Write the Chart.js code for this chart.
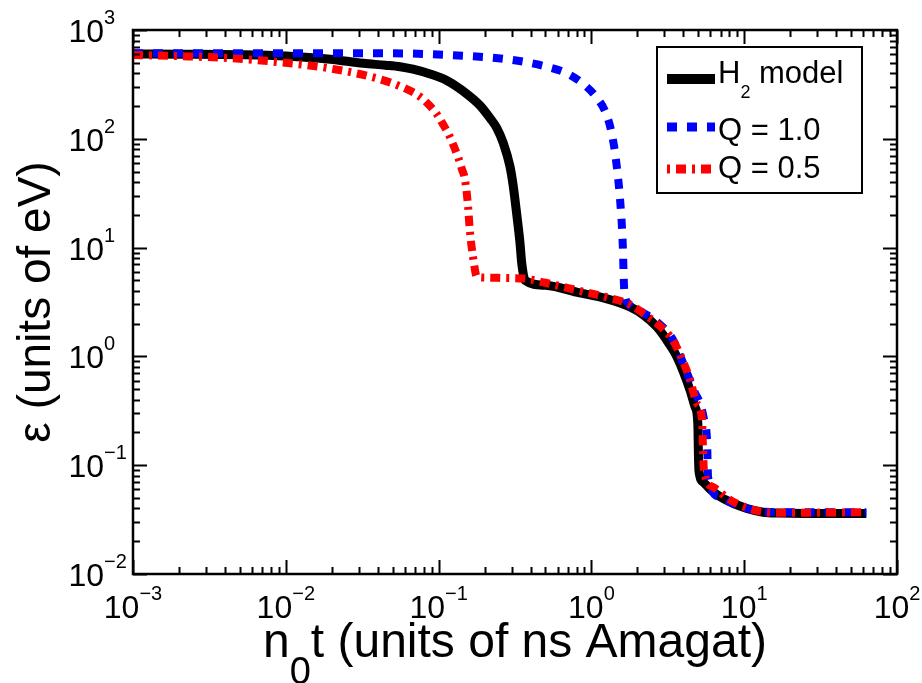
<!DOCTYPE html>
<html>
<head>
<meta charset="utf-8">
<script src="https://cdn.jsdelivr.net/npm/chart.js@4.4.0/dist/chart.umd.min.js"></script>
<style>
  html, body { margin: 0; padding: 0; background: #fff; }
  #wrap { width: 922px; height: 683px; }
</style>
</head>
<body>
<div id="wrap"><canvas id="chart" width="922" height="683"></canvas></div>
<script>
// H2 model (solid black)
const h2X = [0.001, 0.002, 0.005, 0.01, 0.0195, 0.0321, 0.045, 0.056, 0.068, 0.088, 0.113, 0.145, 0.187, 0.217, 0.24, 0.265,
  0.293, 0.308, 0.324, 0.341, 0.35, 0.368, 0.5, 0.84, 1.2, 1.79, 2.2, 2.69, 3.2, 3.63, 4.42, 4.77, 4.97, 5.02, 5.06,
  5.4, 6.0, 7.0, 8.07, 10.4, 13.3, 17, 25, 63];
const h2Y = [603, 600, 593, 577, 539, 494, 475, 460, 436, 394, 344, 274, 202, 155, 126, 91.5,
  56, 36.8, 20.7, 11, 7.2, 5.0, 4.5, 3.83, 3.45, 2.85, 2.4, 1.86, 1.33, 0.99, 0.49, 0.343, 0.244, 0.12, 0.088,
  0.07, 0.06, 0.051, 0.046, 0.040, 0.037, 0.0363, 0.036, 0.036];

// Q = 1.0 (blue dotted)
const q1X = [0.001, 0.01, 0.0493, 0.119, 0.211, 0.279, 0.377, 0.51, 0.689, 0.885, 1.084, 1.228, 1.324, 1.406, 1.47, 1.522,
  1.562, 1.591, 1.61, 1.622, 1.634, 1.66, 1.75, 2.14, 2.69, 3.42, 3.98, 4.42, 4.77, 5.14, 5.47, 5.71, 5.75, 5.8,
  6.95, 8.5, 10.4, 13.3, 17, 63];
const q1Y = [612, 612, 611, 589, 561, 539, 505, 460, 400, 319, 239, 180, 131, 85.9, 54, 33.8,
  21.2, 13.9, 9.1, 6.2, 4.5, 3.6, 3.05, 2.56, 2.07, 1.42, 0.87, 0.60, 0.46, 0.37, 0.26, 0.17, 0.119, 0.078,
  0.051, 0.044, 0.040, 0.0375, 0.037, 0.037];

// Q = 0.5 (red dash-dot)
const q05X = [0.001, 0.002, 0.0041, 0.0088, 0.0186, 0.0356, 0.0534, 0.0755, 0.0879, 0.0972, 0.1052, 0.116, 0.126, 0.134, 0.142,
  0.149, 0.156, 0.16, 0.168, 0.178, 0.2, 0.28, 0.36, 0.5, 0.84, 1.2, 1.79, 2.31, 2.69, 3.42, 3.98, 4.42, 4.9, 5.3,
  5.37, 5.45, 6.25, 8.07, 10.4, 13.3, 17, 63];
const q05Y = [590, 575, 553, 508, 448, 373, 312, 244, 200, 169, 141, 111, 85, 68, 52.8,
  41.8, 23.6, 14.5, 8.2, 5.4, 5.3, 5.25, 5.2, 4.75, 4.0, 3.55, 3.0, 2.35, 2.0, 1.4, 0.9, 0.61, 0.37, 0.26,
  0.147, 0.09, 0.063, 0.048, 0.0405, 0.0372, 0.0365, 0.037];

const seriesNames = ["H_2 model", "Q = 1.0", "Q = 0.5"];
const seriesColors = ["#000000", "#0000ff", "#ff0000"];
const seriesDash = [[], [10, 10], [10, 6, 3, 6]];

const xDecades = [-3, -2, -1, 0, 1, 2];
const yDecades = [-2, -1, 0, 1, 2, 3];
const xTitle = "n_0t (units of ns Amagat)";
const yTitle = "\u03b5 (units of eV)";

const FONT = '"Liberation Sans", Arial, Helvetica, sans-serif';

function toPts(xs, ys) {
  return xs.map((x, i) => ({ x: x, y: ys[i] }));
}

// split "10^{-3}" or "H_2 model" into runs
function richParts(str, size, scriptSize, supDy, subDy) {
  const parts = [];
  let buf = '';
  let i = 0;
  while (i < str.length) {
    const c = str[i];
    if (c === '^' || c === '_') {
      if (buf) { parts.push({ t: buf, size: size, dy: 0 }); buf = ''; }
      let s;
      if (str[i + 1] === '{') {
        const j = str.indexOf('}', i);
        s = str.slice(i + 2, j);
        i = j + 1;
      } else {
        s = str[i + 1];
        i += 2;
      }
      parts.push({ t: s, size: scriptSize, dy: c === '^' ? supDy : subDy });
    } else {
      buf += c;
      i++;
    }
  }
  if (buf) parts.push({ t: buf, size: size, dy: 0 });
  return parts;
}

function measureParts(ctx, parts) {
  let w = 0;
  parts.forEach(p => {
    ctx.font = p.size + 'px ' + FONT;
    p.w = ctx.measureText(p.t).width;
    w += p.w;
  });
  return w;
}

function drawParts(ctx, parts, x, y) {
  let cx = x;
  ctx.textAlign = 'left';
  ctx.textBaseline = 'alphabetic';
  parts.forEach(p => {
    ctx.font = p.size + 'px ' + FONT;
    ctx.fillText(p.t, cx, y + p.dy);
    cx += p.w;
  });
}

const matlabAxes = {
  id: 'matlabAxes',
  afterDatasetsDraw(chart) {
    const ctx = chart.ctx;
    const a = chart.chartArea;
    const xs = chart.scales.x;
    const ys = chart.scales.y;
    ctx.save();
    ctx.strokeStyle = '#000';
    ctx.fillStyle = '#000';
    ctx.lineWidth = 2;
    ctx.setLineDash([]);

    const major = 14, minor = 7;
    // x ticks (bottom + top, inward)
    xDecades.forEach((d, k) => {
      for (let m = 1; m < 10; m++) {
        if (m > 1 && k === xDecades.length - 1) break;
        const px = Math.round(xs.getPixelForValue(m * Math.pow(10, d))) + 0.5;
        const len = m === 1 ? major : minor;
        ctx.beginPath();
        ctx.moveTo(px, a.bottom); ctx.lineTo(px, a.bottom - len);
        ctx.moveTo(px, a.top); ctx.lineTo(px, a.top + len);
        ctx.stroke();
      }
    });
    // y ticks (left + right, inward)
    yDecades.forEach((d, k) => {
      for (let m = 1; m < 10; m++) {
        if (m > 1 && k === yDecades.length - 1) break;
        const py = Math.round(ys.getPixelForValue(m * Math.pow(10, d))) + 0.5;
        const len = m === 1 ? major : minor;
        ctx.beginPath();
        ctx.moveTo(a.left, py); ctx.lineTo(a.left + len, py);
        ctx.moveTo(a.right, py); ctx.lineTo(a.right - len, py);
        ctx.stroke();
      }
    });

    // frame
    ctx.lineWidth = 2.5;
    ctx.strokeRect(a.left, a.top, a.right - a.left, a.bottom - a.top);

    // x tick labels
    xDecades.forEach(d => {
      const px = xs.getPixelForValue(Math.pow(10, d));
      const parts = richParts('10^{' + String(d).replace('-', '\u2212') + '}', 32, 20, -18, 0);
      const w = measureParts(ctx, parts);
      drawParts(ctx, parts, px - w / 2, a.bottom + 44);
    });
    // y tick labels
    yDecades.forEach(d => {
      const py = ys.getPixelForValue(Math.pow(10, d));
      const parts = richParts('10^{' + String(d).replace('-', '\u2212') + '}', 32, 20, -18, 0);
      measureParts(ctx, parts);
      drawParts(ctx, parts, 104 - parts[0].w, py + 12);
    });

    // x title
    const tParts = richParts(xTitle, 48, 38, 0, 27);
    const tw = measureParts(ctx, tParts);
    drawParts(ctx, tParts, (a.left + a.right) / 2 - tw / 2, 657);

    // y title
    ctx.save();
    ctx.translate(50, (a.top + a.bottom) / 2);
    ctx.rotate(-Math.PI / 2);
    ctx.font = '46px ' + FONT;
    ctx.textAlign = 'center';
    ctx.textBaseline = 'alphabetic';
    ctx.fillText(yTitle, 0, 0);
    ctx.restore();

    // legend box
    const box = { l: 657, t: 47, r: 862, b: 193 };
    ctx.fillStyle = '#fff';
    ctx.fillRect(box.l, box.t, box.r - box.l, box.b - box.t);
    ctx.lineWidth = 2;
    ctx.strokeRect(box.l, box.t, box.r - box.l, box.b - box.t);
    const lineYs = [79, 127, 169];
    const textYs = [83, 140, 178];
    const dashOffsets = [0, 0, 16];
    seriesNames.forEach((name, i) => {
      ctx.strokeStyle = seriesColors[i];
      ctx.lineWidth = i === 0 ? 10 : 9;
      ctx.lineCap = 'butt';
      ctx.setLineDash(seriesDash[i]);
      ctx.lineDashOffset = dashOffsets[i];
      ctx.beginPath();
      ctx.moveTo(667, lineYs[i]);
      ctx.lineTo(715, lineYs[i]);
      ctx.stroke();
      ctx.setLineDash([]);
      ctx.lineDashOffset = 0;
      ctx.fillStyle = '#000';
      const parts = richParts(name, 31, 18, 0, 15);
      measureParts(ctx, parts);
      drawParts(ctx, parts, 718, textYs[i]);
    });

    ctx.restore();
  }
};

new Chart(document.getElementById('chart'), {
  type: 'scatter',
  data: {
    datasets: [
      {
        label: seriesNames[0], data: toPts(h2X, h2Y), showLine: true,
        borderColor: seriesColors[0], borderWidth: 9, borderDash: seriesDash[0],
        borderJoinStyle: 'round', pointRadius: 0, cubicInterpolationMode: 'monotone', order: 3
      },
      {
        label: seriesNames[1], data: toPts(q1X, q1Y), showLine: true,
        borderColor: seriesColors[1], borderWidth: 8, borderDash: seriesDash[1],
        borderCapStyle: 'butt', pointRadius: 0, cubicInterpolationMode: 'monotone', order: 2
      },
      {
        label: seriesNames[2], data: toPts(q05X, q05Y), showLine: true,
        borderColor: seriesColors[2], borderWidth: 8, borderDash: seriesDash[2],
        borderCapStyle: 'butt', borderJoinStyle: 'miter', pointRadius: 0, cubicInterpolationMode: 'monotone', order: 1
      }
    ]
  },
  options: {
    responsive: false,
    animation: false,
    devicePixelRatio: 1,
    layout: { padding: { left: 133, right: 25, top: 30, bottom: 109 } },
    scales: {
      x: { type: 'logarithmic', min: 1e-3, max: 1e2, display: false },
      y: { type: 'logarithmic', min: 1e-2, max: 1e3, display: false }
    },
    plugins: { legend: { display: false }, tooltip: { enabled: false } }
  },
  plugins: [matlabAxes]
});
</script>
</body>
</html>
